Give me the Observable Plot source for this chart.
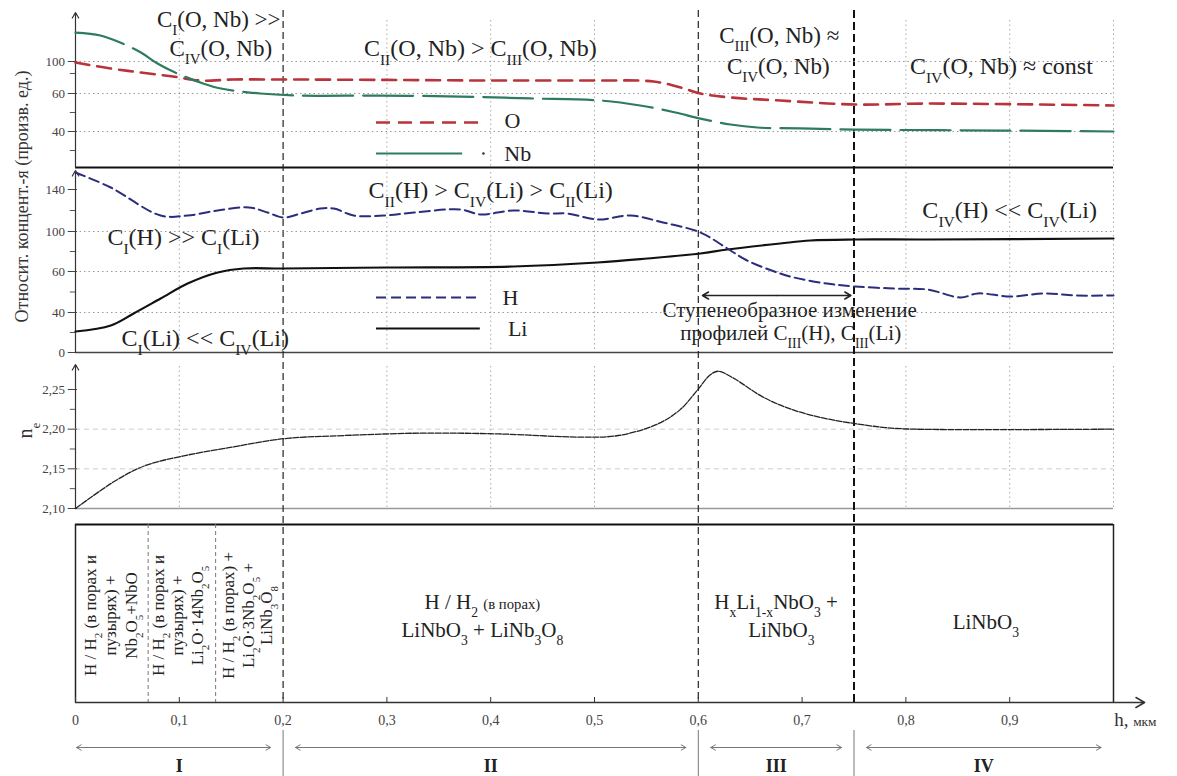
<!DOCTYPE html>
<html><head><meta charset="utf-8">
<script src="https://cdn.jsdelivr.net/npm/d3@7"></script>
<script src="https://cdn.jsdelivr.net/npm/@observablehq/plot@0.6"></script>
<style>
html,body{margin:0;padding:0;background:#fff;}
#chart{position:relative;width:1177px;height:776px;overflow:hidden;background:#fff;}
#chart svg{position:absolute;left:0;top:0;}
</style></head><body><div id="chart"></div>
<script>
// ---------------- data ----------------
const depthO  = [0, 0.034, 0.063, 0.094, 0.12, 0.152, 0.2, 0.3, 0.4, 0.5, 0.557, 0.583, 0.602, 0.631, 0.679, 0.751, 0.821, 1.0];
const concO   = [98.7, 91.2, 86.2, 81.2, 76.2, 77.5, 77.5, 77, 76.2, 76.2, 75, 67.5, 60, 57.9, 56.3, 54.2, 54.7, 53.7];
const depthNb = [0, 0.024, 0.043, 0.063, 0.079, 0.096, 0.123, 0.14, 0.178, 0.217, 0.294, 0.371, 0.438, 0.506, 0.544, 0.578, 0.602, 0.631, 0.657, 0.698, 0.751, 0.891, 1.0];
const concNb  = [136.2, 132.5, 123.7, 111.2, 97.5, 86.2, 72.5, 66.2, 60, 58.9, 58.9, 58.4, 57.4, 56.3, 53.7, 50, 46.8, 43.7, 42.1, 41.6, 41, 40.5, 40];
const depthH  = [0, 0.034, 0.082, 0.108, 0.137, 0.167, 0.185, 0.2, 0.217, 0.236, 0.249, 0.268, 0.297, 0.326, 0.371, 0.39, 0.422, 0.455, 0.474, 0.503, 0.535, 0.566, 0.602, 0.628, 0.647, 0.679, 0.692, 0.724, 0.751, 0.788, 0.821, 0.853, 0.869, 0.901, 0.933, 0.965, 1.0];
const concH   = [156.2, 141.9, 115.2, 115.2, 120, 122.9, 118.1, 113.3, 117.1, 121.9, 121.9, 115.2, 115.2, 118.1, 121, 116.2, 120, 117.1, 117.1, 111.4, 115.2, 108.6, 99, 83, 71, 59, 57.1, 54.1, 52.7, 51.7, 51.2, 47.3, 49.3, 47.8, 49.3, 48.3, 48.3];
const depthLi = [0, 0.034, 0.056, 0.082, 0.108, 0.137, 0.162, 0.2, 0.3, 0.422, 0.503, 0.551, 0.602, 0.628, 0.679, 0.708, 0.751, 0.821, 1.0];
const concLi  = [21, 27, 39, 46.8, 54.1, 59.5, 63, 63, 64, 65, 69, 73, 78, 82, 88, 91, 92, 92, 93];
const depthNe = [0, 0.0385, 0.067, 0.103, 0.149, 0.201, 0.259, 0.333, 0.408, 0.487, 0.523, 0.56, 0.582, 0.599, 0.611, 0.619, 0.633, 0.663, 0.692, 0.724, 0.751, 0.78, 0.809, 1.0];
const valNe   = [2.1, 2.135, 2.154, 2.166, 2.177, 2.188, 2.192, 2.195, 2.194, 2.19, 2.192, 2.206, 2.224, 2.249, 2.268, 2.273, 2.265, 2.24, 2.224, 2.213, 2.207, 2.202, 2.2, 2.2];

const ticksTop = [40, 60, 100];
const minorTop = [30, 50, 85];
const ticksMid = [0, 40, 60, 100, 140];
const minorMid = [20, 50, 80, 120];
const ticksNe  = [2.10, 2.15, 2.20, 2.25];
const minorNe  = [2.125, 2.175, 2.225];
const ticksX   = [0, 0.1, 0.2, 0.3, 0.4, 0.5, 0.6, 0.7, 0.8, 0.9];
const gridX    = [0.1, 0.3, 0.4, 0.5, 0.8, 0.9, 1.0];
const zoneBounds = [0.2, 0.6, 0.75];
const subBounds  = [0.07, 0.135];
const zoneNames  = ["I", "II", "III", "IV"];
const zoneStart  = [0, 0.2, 0.6, 0.75];
const zoneEnd    = [0.2, 0.6, 0.75, 1.0];

const seriesNames = ["O", "Nb", "H", "Li"];
const yLabel = "Относит. концент.-я (произв. ед.)";
const neLabel = "n_{e}";
const xLabel = "h, %{мкм}";

const noteTexts = [
  "C_{I}(O, Nb) >>", "C_{IV}(O, Nb)", "C_{II}(O, Nb) > C_{III}(O, Nb)",
  "C_{III}(O, Nb) ≈", "C_{IV}(O, Nb)", "C_{IV}(O, Nb) ≈ const",
  "C_{II}(H) > C_{IV}(Li) > C_{II}(Li)", "C_{I}(H) >> C_{I}(Li)",
  "C_{I}(Li) << C_{IV}(Li)", "C_{IV}(H) << C_{IV}(Li)",
  "Ступенеобразное изменение", "профилей C_{III}(H), C_{III}(Li)"
];
const colTexts = [
  ["H / H_{2} (в порах и", "пузырях) +", "Nb_{2}O_{5}+NbO"],
  ["H / H_{2} (в порах и", "пузырях) +", "Li_{2}O·14Nb_{2}O_{5}"],
  ["H / H_{2} (в порах) +", "Li_{2}O·3Nb_{2}O_{5} +", "LiNb_{3}O_{8}"]
];
const zoneTexts = ["H / H_{2} %{(в порах)}", "LiNbO_{3} + LiNb_{3}O_{8}", "H_{x}Li_{1-x}NbO_{3} +", "LiNbO_{3}", "LiNbO_{3}"];

// ---------------- layout ----------------
const W = 1177, H = 776, XL = 75, XR = 1113;
const SERIF = "'Liberation Serif','Times New Roman',serif";
const C_O = "#b8333a", C_Nb = "#2e7b5e", C_H = "#2b2d7c", C_Li = "#111";
const notePos = [[0.138,19],[0.14,48],[0.39,48],[0.678,35],[0.677,66],[0.892,66],[0.40,190],[0.104,237],[0.125,338],[0.90,210],[0.688,310],[0.689,333]];
const noteSize = [23,23,24,23,23,24,24,24,24,24,21,21];
const colX = [[0.0145,0.034,0.054],[0.08,0.098,0.1175],[0.147,0.1667,0.184]];
const zonePos = [[0.392,602],[0.392,630],[0.675,602],[0.68,630],[0.877,622]];

// axis mapping of each panel, as printed (uneven label spacing in the concentration panels)
const mapTop = d3.scaleLinear().domain([40, 60, 100]).range([131, 93, 61]);
const mapMid = d3.scaleLinear().domain([0, 40, 60, 100, 140]).range([352, 312, 271, 231, 189]);
const mapNe  = d3.scaleLinear().domain([2.10, 2.25]).range([508, 389]);

const rows = (xs, ys) => xs.map((d, i) => ({depth: d, v: ys[i]}));
const rowsO = rows(depthO, concO), rowsNb = rows(depthNb, concNb);
const rowsH = rows(depthH, concH), rowsLi = rows(depthLi, concLi);
const rowsNe = rows(depthNe, valNe);

function make(transform, marks) {
  const y = {domain: [0, H], range: [0, H], axis: null};
  if (transform) y.transform = transform;
  return Plot.plot({
    width: W, height: H, marginTop: 0, marginBottom: 0, marginLeft: XL, marginRight: W - XR,
    x: {domain: [0, 1], range: [XL, XR], axis: null},
    y,
    style: {background: "transparent", fontFamily: SERIF, overflow: "visible"},
    marks
  });
}

// y axis made of rules + texts so that they pass through the scale transform
function yAxis(ticks, minor, fmt) {
  return [
    Plot.ruleY(ticks, {x1: -0.007, x2: 0.002, stroke: "#444"}),
    Plot.ruleY(minor, {x1: -0.005, x2: 0, stroke: "#555"}),
    Plot.text(ticks, {x: -0.01, y: d => d, text: fmt, textAnchor: "end", fontSize: 13, fill: "#444"})
  ];
}

const panelsPx = [[20, 167], [172, 352], [366, 508]];
const vgrid = gridX.flatMap(x => panelsPx.map(([a, b]) => ({x, a, b})));
const zoneArrows = zoneNames.flatMap((n, i) => {
  const s = zoneStart[i] + (i ? 0.012 : 0.001), e = zoneEnd[i] - 0.012, m = (s + e) / 2;
  return [{x1: m, x2: s}, {x1: m, x2: e}];
});
const notes = noteTexts.map((t, i) => ({t, x: notePos[i][0], y: notePos[i][1], s: noteSize[i]}));
const cols = colTexts.flatMap((c, i) => c.map((t, j) => ({t, x: colX[i][j]})));
const zones = zoneTexts.map((t, i) => ({t, x: zonePos[i][0], y: zonePos[i][1]}));
const fmtX = d => d === 0 ? "0" : d.toFixed(1).replace(".", ",");

// layout plot in page pixel coordinates for y
const layout = make(null, [
  Plot.ruleX(vgrid, {x: "x", y1: "a", y2: "b", stroke: "#aaa", strokeDasharray: "1.5,3"}),
  Plot.ruleY([167], {x1: 0, x2: 1, stroke: "#111", strokeWidth: 2}),
  Plot.ruleY([352], {x1: 0, x2: 1, stroke: "#444", strokeWidth: 1.5}),
  Plot.ruleY([508], {x1: 0, x2: 1, stroke: "#999", strokeWidth: 1.5}),
  Plot.ruleY([524], {x1: 0, x2: 1, stroke: "#111", strokeWidth: 2}),
  Plot.ruleX([0, 1], {y1: 524, y2: 702, stroke: "#222", strokeWidth: 1.5}),
  Plot.ruleX(subBounds, {y1: 524, y2: 702, stroke: "#777", strokeDasharray: "4,3"}),
  Plot.ruleX(zoneBounds.slice(0, 2), {y1: 10, y2: 702, stroke: "#222", strokeWidth: 1.2, strokeDasharray: "7,4"}),
  Plot.ruleX(zoneBounds.slice(2), {y1: 10, y2: 702, stroke: "#111", strokeWidth: 2, strokeDasharray: "8,4"}),
  Plot.ruleX(zoneBounds, {y1: 730, y2: 776, stroke: "#777"}),
  Plot.arrow([{a: 167, b: 12}, {a: 352, b: 170}, {a: 508, b: 364}], {x1: 0, x2: 0, y1: "a", y2: "b", stroke: "#333", strokeWidth: 1.2, headLength: 8}),
  Plot.arrow([{}], {x1: 0, x2: 1.03, y1: 702, y2: 702, stroke: "#333", strokeWidth: 1.5, headLength: 10}),
  Plot.ruleX(ticksX, {y1: 697, y2: 702, stroke: "#333"}),
  Plot.text(ticksX, {x: d => d, y: 720, text: fmtX, fontSize: 14, fill: "#444"}),
  Plot.text([xLabel], {x: 1.021, y: 719, text: d => d, fontSize: 19, fill: "#333"}),
  Plot.arrow(zoneArrows, {x1: "x1", x2: "x2", y1: 747, y2: 747, stroke: "#777", strokeWidth: 1, headLength: 8}),
  Plot.text(zoneNames, {x: (d, i) => (zoneStart[i] + zoneEnd[i]) / 2, y: 766, text: d => d, fontSize: 18, fontWeight: "bold", fill: "#222"}),
  Plot.arrow([{x1: 0.675, x2: 0.604}, {x1: 0.675, x2: 0.747}], {x1: "x1", x2: "x2", y1: 295, y2: 295, stroke: "#222", strokeWidth: 1.5, headLength: 7}),
  Plot.text(notes, {x: "x", y: "y", text: "t", fontSize: "s", fill: "#222"}),
  Plot.text(cols, {x: "x", y: 615, text: "t", rotate: -90, fontSize: 17, fill: "#222"}),
  Plot.text(zones, {x: "x", y: "y", text: "t", fontSize: 21, fill: "#222"}),
  // legends
  Plot.ruleY([122], {x1: 0.29, x2: 0.39, stroke: C_O, strokeWidth: 2.6, strokeDasharray: "14,8"}),
  Plot.ruleY([153], {x1: 0.29, x2: 0.373, stroke: C_Nb, strokeWidth: 2.2}),
  Plot.dot([153], {x: 0.393, y: d => d, r: 1.3, fill: "#333"}),
  Plot.ruleY([297], {x1: 0.29, x2: 0.39, stroke: C_H, strokeWidth: 2, strokeDasharray: "10,5"}),
  Plot.ruleY([328], {x1: 0.29, x2: 0.39, stroke: C_Li, strokeWidth: 2.2}),
  Plot.text(seriesNames, {x: [0.421, 0.426, 0.419, 0.426], y: [120, 153, 297, 328], text: d => d, fontSize: 22, fill: "#222"}),
  Plot.text([yLabel], {x: -0.051, y: 196, text: d => d, rotate: -90, fontSize: 18, fill: "#333"}),
  Plot.text([neLabel], {x: -0.048, y: 430, text: d => d, rotate: -90, fontSize: 20, fill: "#333"})
]);

// panel 1: O, Nb
const p1 = make(mapTop, [
  Plot.ruleY(ticksTop, {x1: 0, x2: 1, stroke: "#999", strokeDasharray: "1.5,3"}),
  ...yAxis(ticksTop, minorTop, d => String(d)),
  Plot.line(rowsO, {x: "depth", y: "v", stroke: C_O, strokeWidth: 2.6, strokeDasharray: "14,8", curve: "catmull-rom"}),
  Plot.line(rowsNb, {x: "depth", y: "v", stroke: C_Nb, strokeWidth: 2.2, strokeDasharray: "50,10", curve: "catmull-rom"})
]);

// panel 2: H, Li
const p2 = make(mapMid, [
  Plot.ruleY(ticksMid.slice(1, 4), {x1: 0, x2: 1, stroke: "#999", strokeDasharray: "1.5,3"}),
  ...yAxis(ticksMid, minorMid, d => String(d)),
  Plot.line(rowsLi, {x: "depth", y: "v", stroke: C_Li, strokeWidth: 2.2, curve: "catmull-rom"}),
  Plot.line(rowsH, {x: "depth", y: "v", stroke: C_H, strokeWidth: 2, strokeDasharray: "10,5", curve: "catmull-rom"})
]);

// panel 3: n_e
const fmtNe = d => d.toFixed(2).replace(".", ",");
const p3 = make(mapNe, [
  Plot.ruleY([2.15, 2.20], {x1: 0, x2: 1, stroke: "#ccc", strokeDasharray: "5,4"}),
  ...yAxis(ticksNe, minorNe, fmtNe),
  Plot.line(rowsNe, {x: "depth", y: "v", stroke: "#222", strokeWidth: 1.3, strokeDasharray: "6,1.5", curve: "catmull-rom"})
]);

function richify(svg) {
  svg.querySelectorAll("text, tspan").forEach(el => {
    if (el.children.length) return;
    const t = el.textContent;
    if (!/[_%]\{/.test(t)) return;
    el.textContent = "";
    const re = /([_%])\{([^}]*)\}/g;
    let last = 0, m;
    const add = (s, kind) => {
      if (!s) return;
      const ts = document.createElementNS("http://www.w3.org/2000/svg", "tspan");
      ts.textContent = s;
      if (kind === "_") { ts.setAttribute("baseline-shift", "sub"); ts.style.fontSize = "65%"; }
      if (kind === "%") { ts.style.fontSize = "70%"; }
      el.appendChild(ts);
    };
    while ((m = re.exec(t))) { add(t.slice(last, m.index)); add(m[2], m[1]); last = re.lastIndex; }
    add(t.slice(last));
  });
}

const root = document.getElementById("chart");
for (const p of [layout, p1, p2, p3]) { richify(p); root.appendChild(p); }
</script></body></html>
